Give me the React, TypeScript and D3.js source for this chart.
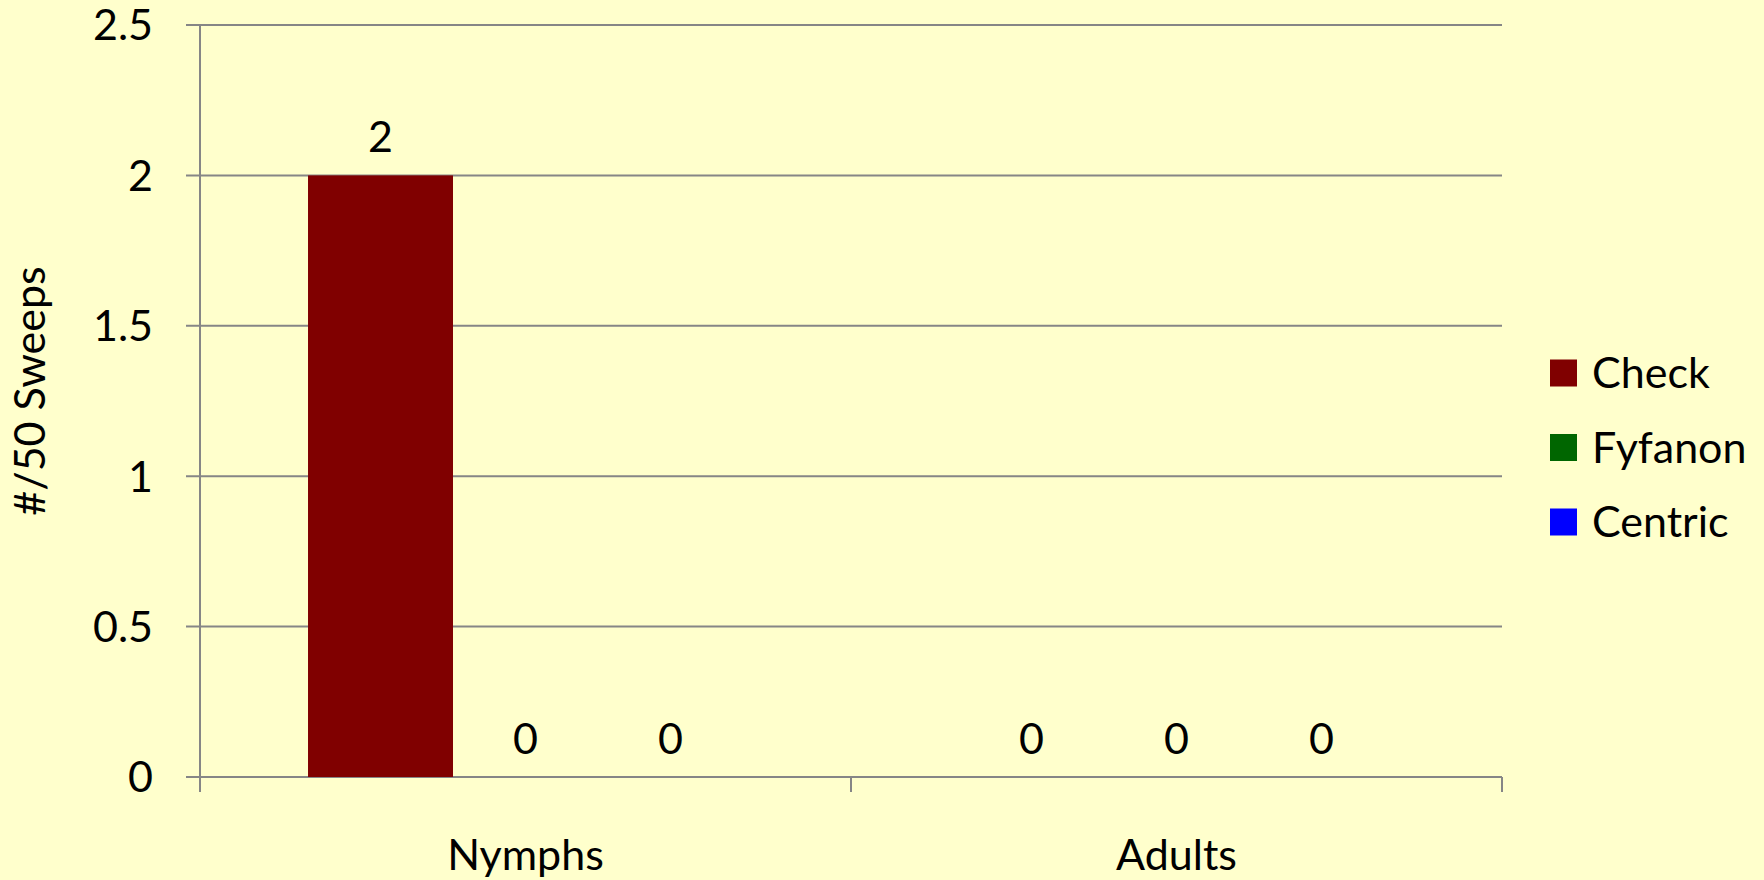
import React from "react";
import * as d3 from "d3";

const categories = ["Nymphs", "Adults"];
const seriesNames = ["Check", "Fyfanon", "Centric"];
const seriesColors = ["#800000", "#006600", "#0000FF"];
const checkValues = [2, 0];
const fyfanonValues = [0, 0];
const centricValues = [0, 0];
const yTicks = [0, 0.5, 1, 1.5, 2, 2.5];
const yTitle = "#/50 Sweeps";

const W = 1764;
const H = 880;
const left = 200;
const right = 1502;
const top = 25;
const bottom = 777;
const FONT = "Lato, 'Open Sans', sans-serif";
const FS = 43;

export default function App() {
  const values = [checkValues, fyfanonValues, centricValues];
  const x0 = d3.scaleBand<string>().domain(categories).range([left, right]).paddingInner(0).paddingOuter(0);
  const x1 = d3
    .scaleBand<string>()
    .domain(seriesNames)
    .range([0, x0.bandwidth()])
    .paddingInner(0)
    .paddingOuter(0.745);
  const y = d3.scaleLinear().domain([0, 2.5]).range([bottom, top]);
  const gridColor = "#868686";
  const boundaries = [...categories.map((c) => x0(c)!), right];

  return (
    <svg width={W} height={H} style={{ position: "absolute", left: 0, top: 0, display: "block" }}>
      <rect x={0} y={0} width={W} height={H} fill="#FFFFCC" />
      {yTicks.map((t) => (
        <g key={t}>
          <line x1={left - 14} x2={right} y1={y(t)} y2={y(t)} stroke={gridColor} strokeWidth={2} />
          <text x={153} y={y(t)} dy="0.36em" textAnchor="end" fontFamily={FONT} fontSize={FS} fill="#000">
            {String(t)}
          </text>
        </g>
      ))}
      <line x1={left} x2={left} y1={top} y2={bottom + 15} stroke={gridColor} strokeWidth={2} />
      {boundaries.map((b, i) => (
        <line key={i} x1={b} x2={b} y1={bottom} y2={bottom + 15} stroke={gridColor} strokeWidth={2} />
      ))}
      {categories.map((c, ci) => (
        <g key={c}>
          {seriesNames.map((s, si) => {
            const v = values[si][ci];
            const bx = x0(c)! + x1(s)!;
            return (
              <g key={s}>
                <rect x={bx} y={y(v)} width={x1.bandwidth()} height={bottom - y(v)} fill={seriesColors[si]} />
                <text
                  x={bx + x1.bandwidth() / 2}
                  y={y(v) - 23}
                  textAnchor="middle"
                  fontFamily={FONT}
                  fontSize={FS}
                  fill="#000"
                >
                  {String(v)}
                </text>
              </g>
            );
          })}
          <text
            x={x0(c)! + x0.bandwidth() / 2}
            y={870}
            textAnchor="middle"
            fontFamily={FONT}
            fontSize={FS}
            fill="#000"
          >
            {c}
          </text>
        </g>
      ))}
      <text
        transform={`translate(45, ${(top + bottom) / 2 - 10}) rotate(-90)`}
        textAnchor="middle"
        fontFamily={FONT}
        fontSize={FS}
        fill="#000"
      >
        {yTitle}
      </text>
      {seriesNames.map((s, i) => (
        <g key={s} transform={`translate(1550, ${373 + i * 74.5})`}>
          <rect x={0} y={-13.5} width={27} height={27} fill={seriesColors[i]} />
          <text x={42} y={0} dy="0.36em" fontFamily={FONT} fontSize={FS} fill="#000">
            {s}
          </text>
        </g>
      ))}
    </svg>
  );
}
